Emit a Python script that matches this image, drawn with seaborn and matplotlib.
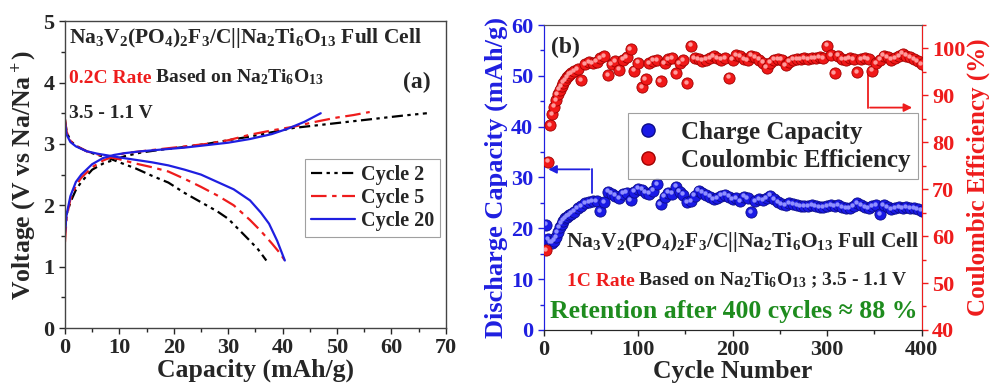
import numpy as np
import pandas as pd
import matplotlib
matplotlib.use('Agg')
import matplotlib.pyplot as plt
from matplotlib.lines import Line2D
from matplotlib.ticker import MultipleLocator
from matplotlib.transforms import offset_copy
import seaborn as sns

# ---- (a) charge / discharge profiles ----
c2_chg_cap = [0, 0.3, 1, 2, 3, 5, 7, 9, 11, 14, 18, 22, 26, 30, 34, 38, 42, 46, 50, 54, 58, 62, 66.5]
c2_chg_v = [1.6, 1.85, 2.05, 2.25, 2.38, 2.58, 2.68, 2.74, 2.8, 2.86, 2.91, 2.95, 3.0, 3.06, 3.12, 3.19,
            3.26, 3.3, 3.34, 3.38, 3.42, 3.46, 3.5]
c2_dis_cap = [0, 0.3, 1, 2, 4, 6, 8, 10, 13, 16, 19, 22, 25, 28, 30, 32, 34, 35.5, 37]
c2_dis_v = [3.4, 3.2, 3.05, 2.97, 2.88, 2.82, 2.77, 2.7, 2.6, 2.48, 2.37, 2.2, 2.05, 1.9, 1.78, 1.6,
            1.42, 1.28, 1.1]

c5_chg_cap = [0, 0.3, 1, 2, 3, 5, 7, 9, 11, 14, 18, 22, 26, 30, 34, 38, 42, 46, 50, 53, 56]
c5_chg_v = [1.4, 1.8, 2.1, 2.32, 2.45, 2.62, 2.73, 2.8, 2.85, 2.88, 2.92, 2.96, 3.0, 3.06, 3.15, 3.22,
            3.28, 3.36, 3.43, 3.47, 3.52]
c5_dis_cap = [0, 0.3, 1, 2, 4, 6, 8, 10, 13, 16, 19, 22, 25, 28, 31, 34, 36, 38, 39.5, 40.4]
c5_dis_v = [3.4, 3.2, 3.05, 2.97, 2.88, 2.83, 2.79, 2.75, 2.68, 2.62, 2.55, 2.43, 2.3, 2.16, 2.0, 1.76,
            1.58, 1.38, 1.22, 1.1]

c20_chg_cap = [0, 0.3, 1, 2, 3, 5, 7, 9, 11, 14, 18, 22, 26, 30, 34, 38, 41, 44, 47]
c20_chg_v = [1.55, 1.85, 2.15, 2.38, 2.5, 2.67, 2.77, 2.82, 2.85, 2.88, 2.91, 2.94, 2.98, 3.02, 3.08,
             3.16, 3.25, 3.36, 3.5]
c20_dis_cap = [0, 0.3, 1, 2, 4, 6, 8, 10, 13, 16, 19, 22, 25, 28, 31, 34, 36, 37.5, 39, 40.4]
c20_dis_v = [3.35, 3.15, 3.03, 2.96, 2.88, 2.84, 2.81, 2.78, 2.74, 2.7, 2.65, 2.58, 2.5, 2.38, 2.26,
             2.08, 1.88, 1.7, 1.42, 1.1]

# ---- (b) cycling ----
cycle = [3, 5, 7, 9, 11, 13, 15, 17, 19, 21, 23, 25, 27, 29] + list(range(32, 401, 4))
capacity = [20.7, 17.8, 17.3, 17.2, 17.6, 18.3, 19.2, 20.2, 20.9, 21.5, 22.0, 22.3, 22.6, 22.9,
            23.3, 23.9, 24.4, 25.0, 25.2, 25.3, 25.4, 23.4, 25.2, 27.2,
            26.8, 26.4, 26.0, 26.8, 27.0, 25.6, 27.2, 27.8, 27.6, 27.0,
            26.8, 27.4, 28.7, 24.8, 26.2, 27.0, 26.8, 28.2, 27.2, 26.6,
            25.2, 25.4, 26.4, 27.4, 27.0, 26.6, 26.2, 25.8, 26.0, 26.4,
            26.6, 26.2, 25.8, 26.0, 25.4, 26.2, 25.9, 23.2, 25.4, 25.8,
            25.6, 26.0, 26.4, 25.8, 25.2, 24.8, 24.6, 25.0, 24.8, 24.6,
            24.4, 24.3, 24.4, 24.5, 24.3, 24.1, 24.2, 24.4, 24.6, 24.3,
            24.5, 24.2, 24.0, 23.9, 24.3, 24.9, 24.6, 24.2, 24.0, 24.4,
            24.6, 22.8, 24.5, 24.2, 23.8, 23.9, 24.2, 24.0, 24.2, 23.9,
            24.0, 23.8, 23.5]
efficiency = [57.0, 75.9, 83.6, 86.0, 87.6, 89.0, 90.3, 91.2, 92.0, 92.7, 93.3, 93.9, 94.4, 94.8,
              95.1, 95.6, 93.3, 96.7, 97.1, 96.8, 97.2, 98.0, 98.3, 94.3,
              96.6, 97.3, 95.5, 97.6, 98.1, 99.9, 95.3, 97.0, 91.8, 93.5,
              96.8, 97.4, 97.5, 93.0, 96.8, 97.8, 97.9, 94.7, 96.8, 97.5,
              92.6, 100.6, 98.0, 97.8, 97.4, 97.6, 98.0, 98.4, 98.0, 97.6,
              97.9, 93.8, 97.6, 98.6, 98.3, 97.8, 97.5, 98.5, 98.2, 97.6,
              97.0, 95.9, 97.0, 97.6, 97.8, 97.6, 96.4, 97.2, 97.6, 97.8,
              97.7, 98.0, 97.8, 98.0, 97.9, 98.1, 98.0, 100.6, 98.6, 94.7,
              98.5, 97.8, 97.6, 97.9, 97.8, 95.0, 97.7, 97.9, 97.8, 95.3,
              96.8, 97.6, 98.5, 98.2, 97.6, 98.0, 98.3, 98.9, 98.5, 98.2,
              97.8, 97.3, 96.7]

BLUE = '#1f1fe0'
RED = '#ee1c1c'
GREEN = '#1e8c1e'

sns.set_style('ticks')
plt.rcParams['font.family'] = ['Liberation Serif', 'DejaVu Serif']
plt.rcParams['font.weight'] = 'bold'
plt.rcParams['axes.labelweight'] = 'bold'
plt.rcParams['mathtext.fontset'] = 'custom'
plt.rcParams['mathtext.rm'] = 'Liberation Serif:bold'
plt.rcParams['mathtext.bf'] = 'Liberation Serif:bold'
plt.rcParams['mathtext.it'] = 'Liberation Serif:bold'
plt.rcParams['mathtext.default'] = 'bf'

fig = plt.figure(figsize=(9.92, 3.85), dpi=100)
ax = fig.add_axes([0.0655, 0.148, 0.384, 0.797])
axb = fig.add_axes([0.548, 0.143, 0.381, 0.792])
axc = axb.twinx()

# ---------- panel (a) ----------
curves = [
    ('Cycle 2', 'black', (0, (5, 2, 1.5, 2, 1.5, 2)), c2_chg_cap, c2_chg_v, c2_dis_cap, c2_dis_v),
    ('Cycle 5', RED, (0, (7, 2.5, 2, 2.5)), c5_chg_cap, c5_chg_v, c5_dis_cap, c5_dis_v),
    ('Cycle 20', BLUE, '-', c20_chg_cap, c20_chg_v, c20_dis_cap, c20_dis_v),
]
handles = []
for name, col, ls, xc, yc, xd, yd in curves:
    for xx, yy in ((xc, yc), (xd, yd)):
        sns.lineplot(x=xx, y=yy, ax=ax, color=col, linestyle=ls, linewidth=1.6,
                     sort=False, estimator=None)
    handles.append(Line2D([], [], color=col, linestyle=ls, linewidth=1.6, label=name))

ax.set_xlim(0, 70)
ax.set_ylim(0, 5)
ax.xaxis.set_major_locator(MultipleLocator(10))
ax.xaxis.set_minor_locator(MultipleLocator(5))
ax.yaxis.set_major_locator(MultipleLocator(1))
ax.yaxis.set_minor_locator(MultipleLocator(0.5))
ax.tick_params(which='both', direction='out', labelsize=16, width=1)
ax.tick_params(which='major', length=4)
ax.tick_params(which='minor', length=3)
for s in ax.spines.values():
    s.set_color('#444444')
    s.set_linewidth(1)
ax.set_xlabel('Capacity (mAh/g)', fontsize=18.5, labelpad=0)
ax.set_ylabel(r'Voltage (V vs Na/$\mathregular{Na^+}$)', fontsize=18.5, labelpad=4)

leg = ax.legend(handles=handles, loc='upper right', bbox_to_anchor=(0.985, 0.55),
                fontsize=14.5, frameon=True, fancybox=False, edgecolor='#888888',
                handlelength=2.2, borderpad=0.3, labelspacing=0.15, handletextpad=0.3,
                borderaxespad=0)
leg.get_frame().set_linewidth(0.8)

formula = r'$\mathregular{Na_3V_2(PO_4)_2F_3/C||Na_2Ti_6O_{13}}$ Full Cell'
ax.text(0.01, 0.945, formula, transform=ax.transAxes, fontsize=15.5, va='center', ha='left')
t_rate = ax.text(0.01, 0.80, '0.2C Rate', transform=ax.transAxes, fontsize=14,
                 color=RED, va='baseline', ha='left')
ax.text(0.01, 0.685, '3.5 - 1.1 V', transform=ax.transAxes, fontsize=14, va='baseline', ha='left')
ax.text(0.96, 0.80, '(a)', transform=ax.transAxes, fontsize=17, va='center', ha='right')

# ---------- panel (b) ----------
df = pd.DataFrame({'cycle': cycle, 'capacity': capacity, 'efficiency': efficiency})
hl = offset_copy(axb.transData, fig=fig, x=-1.3, y=1.3, units='dots')
sns.scatterplot(data=df, x='cycle', y='capacity', ax=axb, s=65, color='#1a1ae6',
                edgecolor='#0c0c8a', linewidth=0.6, zorder=3, legend=False)
axb.scatter(df['cycle'], df['capacity'], s=10, color='#8f8fff', linewidth=0,
            transform=hl, zorder=4)
hl2 = offset_copy(axc.transData, fig=fig, x=-1.3, y=1.3, units='dots')
sns.scatterplot(data=df, x='cycle', y='efficiency', ax=axc, s=65, color='#f01818',
                edgecolor='#a00000', linewidth=0.6, zorder=3, legend=False)
axc.scatter(df['cycle'], df['efficiency'], s=10, color='#ff9a9a', linewidth=0,
            transform=hl2, zorder=4)

axb.set_xlim(0, 400)
axb.set_ylim(0, 60)
axc.set_ylim(40, 105)
axb.xaxis.set_major_locator(MultipleLocator(100))
axb.xaxis.set_minor_locator(MultipleLocator(50))
axb.yaxis.set_major_locator(MultipleLocator(10))
axb.yaxis.set_minor_locator(MultipleLocator(5))
axc.yaxis.set_major_locator(MultipleLocator(10))
axc.yaxis.set_minor_locator(MultipleLocator(5))
axb.tick_params(which='both', direction='out', labelsize=16, width=1)
axb.tick_params(axis='y', which='both', colors=BLUE)
axb.tick_params(which='major', length=4)
axb.tick_params(which='minor', length=3)
axc.tick_params(which='both', direction='out', labelsize=16, width=1, colors=RED)
axc.tick_params(which='major', length=4)
axc.tick_params(which='minor', length=3)
axb.spines['left'].set_color(BLUE)
axc.spines['left'].set_color(BLUE)
axc.spines['right'].set_color(RED)
axb.spines['top'].set_color('#555555')
axc.spines['top'].set_color('#555555')
axb.set_xlabel('Cycle Number', fontsize=18.5, labelpad=0)
axb.set_ylabel('Discharge Capacity (mAh/g)', fontsize=19, color=BLUE, labelpad=2)
axc.set_ylabel('Coulombic Efficiency (%)', fontsize=18, color=RED, labelpad=1)

# pointer arrows
axb.plot([51, 51], [26.9, 31.6], color=BLUE, lw=1.3, zorder=2)
axb.annotate('', xy=(2, 31.6), xytext=(51.5, 31.6),
             arrowprops=dict(arrowstyle='-|>', color=BLUE, lw=1.3, mutation_scale=12))
axc.plot([343, 343], [95.0, 87.4], color=RED, lw=1.3, zorder=2)
axc.annotate('', xy=(393, 87.4), xytext=(342.5, 87.4),
             arrowprops=dict(arrowstyle='-|>', color=RED, lw=1.3, mutation_scale=12))

lh = [Line2D([], [], marker='o', linestyle='', markersize=9.5, markerfacecolor='#1a1ae6',
             markeredgecolor='#0c0c8a', label='Charge Capacity'),
      Line2D([], [], marker='o', linestyle='', markersize=9.5, markerfacecolor='#f01818',
             markeredgecolor='#a00000', label='Coulombic Efficiency')]
legb = axc.legend(handles=lh, loc='upper right', bbox_to_anchor=(0.99, 0.71), fontsize=18,
                  frameon=True, fancybox=False, edgecolor='#888888', handlelength=1.0,
                  handletextpad=0.8, borderpad=0.3, labelspacing=0.2, borderaxespad=0)
legb.get_frame().set_linewidth(0.8)

axc.text(0.02, 0.928, '(b)', transform=axb.transAxes, fontsize=17, va='center', ha='left')
axc.text(0.058, 0.289, formula, transform=axb.transAxes, fontsize=15.5, va='center', ha='left')
t_1c = axc.text(0.061, 0.145, '1C Rate', transform=axb.transAxes, fontsize=14, color=RED,
                va='baseline', ha='left')
axc.text(0.016, 0.059, 'Retention after 400 cycles \u2248 88 %', transform=axb.transAxes,
         fontsize=18.5, color=GREEN, va='center', ha='left')

# continue coloured text lines right after the red part
fig.canvas.draw()
r = fig.canvas.get_renderer()
bb = t_rate.get_window_extent(r)
xa = ax.transAxes.inverted().transform((bb.x1, bb.y0))[0]
ax.text(xa, 0.80, r' Based on $\mathregular{Na_2Ti_6O_{13}}$', transform=ax.transAxes,
        fontsize=14, va='baseline', ha='left')
bb = t_1c.get_window_extent(r)
xa = axb.transAxes.inverted().transform((bb.x1, bb.y0))[0]
axc.text(xa, 0.145, r' Based on $\mathregular{Na_2Ti_6O_{13}}$ ; 3.5 - 1.1 V', transform=axb.transAxes,
         fontsize=14, va='baseline', ha='left')

fig.savefig('out.png', dpi=100)
